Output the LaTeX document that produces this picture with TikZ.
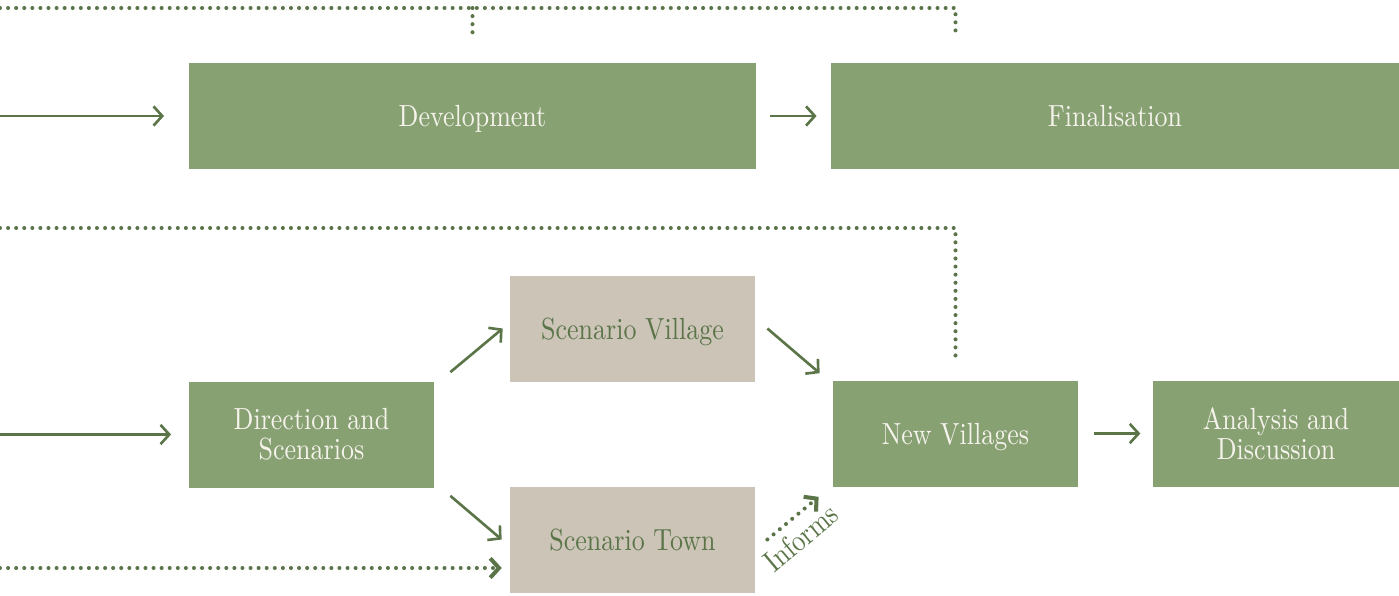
\documentclass[tikz,border=0pt]{standalone}
\usepackage{fontspec}
\setmainfont{lmroman10-regular.otf}[FakeStretch=0.85]
\usetikzlibrary{arrows.meta,calc,positioning}
\usepackage{xcolor}
\newcommand{\pxu}{0.02cm}
\newcommand{\boxfont}{\fontsize{17.4}{17}\selectfont}
\definecolor{boxgreen}{HTML}{87A173}
\definecolor{linegreen}{HTML}{5B7549}
\definecolor{boxbeige}{HTML}{CBC4B7}
\definecolor{paletext}{HTML}{F6F3EC}
\tikzset{
    greensty/.style={fill=boxgreen,text=paletext,rectangle,inner sep=0pt,align=center,font=\boxfont,minimum height=106*\pxu},
    beigesty/.style={fill=boxbeige,text=linegreen,rectangle,inner sep=0pt,align=center,font=\boxfont,minimum height=106*\pxu,minimum width=245*\pxu},
    onelinesty/.style={text height=12pt,text depth=0pt},
    arrsty/.style={draw=linegreen,line width=1.5pt,->},
    dotsty/.style={draw=linegreen,line width=2.3pt,line cap=round,dash pattern=on 0pt off 4.6pt},
    dotarrsty/.style={dotsty,->},
    labsty/.style={text=linegreen,font=\boxfont,inner sep=2pt},
}

\begin{document}
\begin{tikzpicture}[>={Straight Barb[length=5pt,width=11pt]},x=\pxu,y=-\pxu]
\useasboundingbox (0,0) rectangle (1399,595);

% top row
\node[greensty,onelinesty,minimum width=567*\pxu] (dev) at (472.5,116) {Development};
\node[greensty,onelinesty,minimum width=568*\pxu] (fin) at (1115,116) {Finalisation};

% bottom row
\node[greensty,minimum width=245*\pxu] (dir) at (311.5,434.5) {Direction and\\Scenarios};
\node[beigesty,onelinesty] (village) at (632.5,328.5) {Scenario Village};
\node[beigesty,onelinesty] (town) at (632.5,539.5) {Scenario Town};
\node[greensty,onelinesty,minimum width=245*\pxu] (nv) at (955.5,433.5) {New Villages};
\node[greensty,minimum width=246*\pxu] (ana) at (1276,433.5) {Analysis and\\Discussion};

% free ends on the left
\coordinate (topin) at (0,8);
\coordinate (devin) at (0,116);
\coordinate (midin) at (0,228);
\coordinate (dirin) at (0,434.5);
\coordinate (townin) at (0,568);

\draw[dotsty] (topin) -| ($(nv.north |- dev.north)+(0,-26)$);
\draw[dotsty] (dev.north |- topin) -- ($(dev.north)+(0,-26)$);
\draw[dotsty] (midin) -| ($(nv.north)+(0,-23)$);

\draw[arrsty,shorten >=14pt] (devin) -- (dev.west);
\draw[arrsty,shorten <=8pt,shorten >=8pt] (dev.east) -- (fin.west);
\draw[arrsty,shorten >=10pt] (dirin) -- (dir.west);
\draw[dotarrsty,shorten >=4.5pt] (townin) -- (townin -| town.west);

\draw[arrsty] ($(dir.north east)+(16,-9)$) -- ($(village.west)+(-7,0)$);
\draw[arrsty] ($(dir.south east)+(16,8)$) -- ($(town.west)+(-8,0)$);
\draw[arrsty] ($(village.east)+(12,0)$) -- ($(nv.north west)+(-13,-7)$);
\draw[dotarrsty] ($(town.east)+(12,0)$) -- ($(nv.south west)+(-14,10)$)
    node[labsty,pos=0.4,sloped,below=2pt] {Informs};
\draw[arrsty,shorten <=9pt,shorten >=7pt] (nv.east) -- (ana.west);
\end{tikzpicture}
\end{document}
